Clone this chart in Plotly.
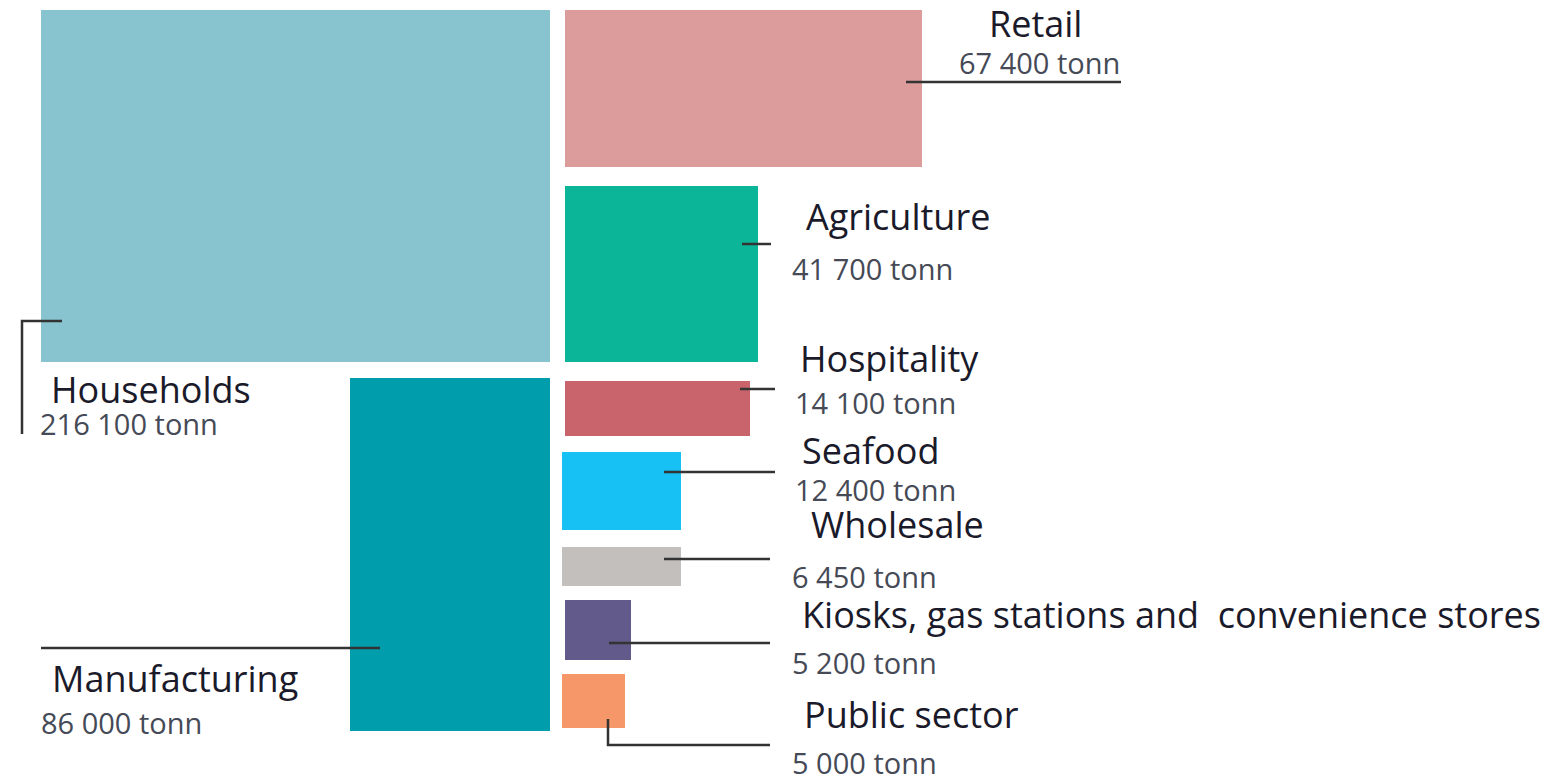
import plotly.graph_objects as go

# ---- data ----
categories = ["Households", "Manufacturing", "Retail", "Agriculture", "Hospitality",
              "Seafood", "Wholesale", "Kiosks, gas stations and  convenience stores",
              "Public sector"]
values_tonn = [216100, 86000, 67400, 41700, 14100, 12400, 6450, 5200, 5000]
value_labels = ["216 100 tonn", "86 000 tonn", "67 400 tonn", "41 700 tonn", "14 100 tonn",
                "12 400 tonn", "6 450 tonn", "5 200 tonn", "5 000 tonn"]

# ---- layout (pixel space of a 1559x777 canvas) ----
colors = ["#87C4CF", "#009EAD", "#DC9C9C", "#0BB698", "#C9646C",
          "#17C1F3", "#C3BFBD", "#615A8A", "#F6976A"]
# box geometry: x0, x1, y0, y1
boxes = [(41, 550, 10, 362), (350, 550, 378, 731), (565, 922, 10, 167),
         (565, 758, 186, 362), (565, 750, 381, 436), (562, 681, 452, 530),
         (562, 681, 547, 586), (565, 631, 600, 660), (562, 625, 674, 728)]
# label position (x, y center) and value position
label_pos = [(49, 389), (50, 678), (987, 23), (804, 216), (798, 358),
             (800, 450), (809, 524), (800, 614), (802, 714)]
value_pos = [(38, 423), (39, 722), (957, 62), (790, 268), (793, 402),
             (793, 489), (790, 576), (790, 662), (790, 762)]
leaders = [
    [(62, 321), (22, 321), (22, 434)],
    [(41, 648), (380, 648)],
    [(906, 82), (1121, 82)],
    [(742, 244), (771, 244)],
    [(740, 389), (775, 389)],
    [(664, 472), (775, 472)],
    [(664, 559), (770, 559)],
    [(609, 643), (770, 643)],
    [(608, 719), (608, 745), (770, 745)],
]

fig = go.Figure()
fig.add_trace(go.Bar(
    x=[(b[0] + b[1]) / 2 for b in boxes],
    width=[b[1] - b[0] for b in boxes],
    base=[b[2] for b in boxes],
    y=[b[3] - b[2] for b in boxes],
    marker=dict(color=colors, line=dict(width=0)),
    customdata=values_tonn,
    text=categories,
    hovertemplate="%{text}: %{customdata} tonn<extra></extra>",
    textposition="none",
))

for pts in leaders:
    fig.add_trace(go.Scatter(
        x=[p[0] for p in pts], y=[p[1] for p in pts], mode="lines",
        line=dict(color="#333333", width=2.5), hoverinfo="skip"))

for cat, (lx, ly) in zip(categories, label_pos):
    fig.add_annotation(x=lx, y=ly, text=cat, showarrow=False, xanchor="left",
                       yanchor="middle", font=dict(family="Open Sans", size=36, color="#1a1a2a"))
for val, (vx, vy) in zip(value_labels, value_pos):
    fig.add_annotation(x=vx, y=vy, text=val, showarrow=False, xanchor="left",
                       yanchor="middle", font=dict(family="Open Sans", size=29, color="#454a56"))

fig.update_layout(
    width=1559, height=777,
    margin=dict(l=0, r=0, t=0, b=0),
    paper_bgcolor="white", plot_bgcolor="white",
    showlegend=False, barmode="overlay", bargap=0,
    xaxis=dict(range=[0, 1559], visible=False, fixedrange=True),
    yaxis=dict(range=[777, 0], visible=False, fixedrange=True),
)

fig.write_html("out.html")
